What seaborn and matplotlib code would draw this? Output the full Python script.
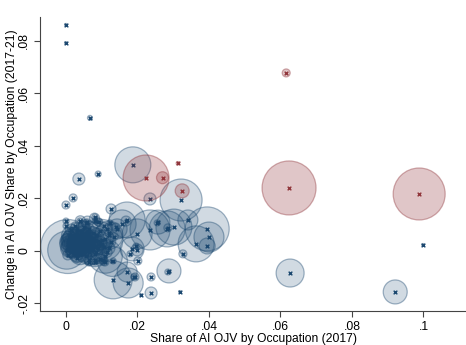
import matplotlib
matplotlib.use("Agg")
import matplotlib.pyplot as plt
import matplotlib.ticker as mticker
from matplotlib.colors import to_rgba
import numpy as np
import pandas as pd
import seaborn as sns

# share of AI OJV in 2017 (x), change 2017-21 (y), occupation weight (bubble area)
# red = highlighted occupations
red_x = [0.0616, 0.0624, 0.0988, 0.0224, 0.0270, 0.0313, 0.0325]
red_y = [0.0678, 0.0240, 0.0217, 0.0278, 0.0279, 0.0334, 0.0229]
red_w = [16, 729, 676, 529, 36, 3, 49]

blue_x = [
    0.0, 0.0, 0.0067, 0.0036, 0.0090, 0.0020, 0.0, 0.0187, 0.0235, 0.0322,
    0.0126, 0.0283, 0.0257, 0.0341, 0.0395, 0.0400, 0.0395, 0.0364, 0.0302, 0.0235,
    0.0327, 0.0288, 0.0238, 0.0238, 0.0210, 0.0319, 0.0193, 0.0171, 0.0174, 0.0132,
    0.0201, 0.0199, 0.0185, 0.0199, 0.0171, 0.0157, 0.0143, 0.0627, 0.0921, 0.0999,
    0.0123, 0.0140, 0.0168, 0.0120, 0.0255, 0.0285, 0.0196, 0.0179, 0.0109, 0.0132,
    0.0190, 0.0285, 0.0039, 0.0059, 0.0081, 0.0081, 0.0092, 0.0014, 0.0064, 0.0081,
    0.0104, 0.0, 0.0,
    # dense cluster near the origin
    0.0005, 0.0002, 0.0030, 0.0070, 0.0100, 0.0120, 0.0060, 0.0080, 0.0110, 0.0130,
    0.0040, 0.0020, 0.0040, 0.0060, 0.0080, 0.0090, 0.0015, 0.0030, 0.0050, 0.0065,
    0.0075, 0.0010, 0.0025, 0.0040, 0.0055, 0.0070, 0.0085, 0.0095, 0.0005, 0.0015,
    0.0025, 0.0035, 0.0045, 0.0055, 0.0065, 0.0075, 0.0085, 0.0095, 0.0105, 0.0010,
    0.0020, 0.0030, 0.0040, 0.0050, 0.0060, 0.0070, 0.0085, 0.0005, 0.0015, 0.0035,
    0.0055, 0.0065, 0.0080, 0.0095, 0.0105, 0.0115, 0.0120, 0.0125, 0.0135, 0.0105,
    0.0115, 0.0045, 0.0025, 0.0055, 0.0030, 0.0005,
    0.0010, 0.0020, 0.0030, 0.0045, 0.0060, 0.0075, 0.0090, 0.0015, 0.0035, 0.0050,
    0.0065, 0.0080, 0.0100, 0.0025, 0.0045, 0.0060, 0.0005, 0.0035, 0.0070, 0.0110,
]
blue_y = [
    0.0861, 0.0792, 0.0507, 0.0274, 0.0293, 0.0202, 0.0175, 0.0328, 0.0198, 0.0194,
    0.0160, 0.0084, 0.0110, 0.0118, 0.0084, 0.0053, 0.0019, 0.0027, 0.0091, 0.0080,
    -0.0011, -0.0076, -0.0099, -0.0160, -0.0168, -0.0156, -0.0099, -0.0080, -0.0122, -0.0110,
    -0.0038, 0.0065, 0.0008, 0.0004, 0.0118, 0.0103, 0.0084, -0.0084, -0.0156, 0.0023,
    0.0107, 0.0091, 0.0114, 0.0069, 0.0107, 0.0088, 0.0019, -0.0011, -0.0042, -0.0038,
    -0.0099, -0.0080, 0.0114, 0.0107, 0.0130, 0.0114, 0.0110, 0.0080, -0.0042, -0.0042,
    -0.0034, 0.0114, 0.0095,
    0.0017, 0.0003, 0.0035, 0.0020, 0.0040, 0.0060, 0.0070, -0.0010, -0.0020, -0.0040,
    -0.0010, 0.0050, 0.0115, 0.0110, 0.0125, 0.0110, 0.0080, 0.0080, 0.0090, 0.0085,
    0.0070, 0.0060, 0.0065, 0.0060, 0.0055, 0.0050, 0.0060, 0.0075, 0.0040, 0.0030,
    0.0020, 0.0040, 0.0025, 0.0035, 0.0030, 0.0035, 0.0020, 0.0030, 0.0015, 0.0010,
    0.0000, 0.0010, 0.0005, 0.0010, 0.0000, 0.0005, -0.0005, 0.0025, -0.0005, -0.0015,
    -0.0020, -0.0035, -0.0035, -0.0030, -0.0040, -0.0005, 0.0010, 0.0035, 0.0055, 0.0095,
    0.0085, 0.0075, 0.0095, 0.0105, -0.0025, -0.0015,
    0.0045, 0.0030, 0.0055, 0.0040, 0.0020, 0.0045, 0.0010, 0.0015, 0.0025, 0.0050,
    0.0040, 0.0015, 0.0025, 0.0035, 0.0015, 0.0060, 0.0035, 0.0000, 0.0030, 0.0045,
]
blue_w = [
    2, 2, 6, 36, 9, 16, 16, 324, 36, 441,
    25, 324, 144, 100, 484, 225, 64, 324, 324, 400,
    16, 144, 16, 36, 2, 2, 16, 100, 225, 361,
    16, 225, 144, 36, 324, 196, 100, 196, 144, 2,
    9, 16, 25, 16, 9, 16, 9, 9, 16, 9,
    9, 9, 9, 16, 9, 9, 16, 9, 16, 9,
    16, 9, 9,
    729, 361, 225, 361, 441, 196, 144, 169, 289, 225,
    121, 100, 25, 36, 25, 16, 36, 49, 36, 25,
    36, 64, 49, 81, 64, 36, 49, 25, 49, 81,
    64, 100, 81, 64, 49, 81, 36, 49, 36, 81,
    49, 64, 49, 64, 36, 49, 36, 64, 36, 25,
    36, 25, 16, 25, 16, 25, 36, 25, 16, 16,
    25, 25, 16, 16, 25, 25,
    64, 81, 49, 100, 64, 81, 49, 100, 121, 64,
    81, 64, 100, 49, 81, 49, 64, 121, 100, 81,
]

BLUE = "#1a476f"
RED = "#90353b"

plt.rcParams["font.family"] = ["Liberation Sans", "DejaVu Sans"]

fig = plt.figure(figsize=(4.66, 3.45), dpi=100)
ax = fig.add_axes([40 / 466, 34 / 345, 426 / 466, 294 / 345])

w_max = max(max(blue_w), max(red_w))
px_to_pt2 = (2 * 0.72) ** 2  # radius in px^2 -> marker area in pt^2

for xs, ys, ws, col, fa in [(blue_x, blue_y, blue_w, BLUE, 0.2),
                             (red_x, red_y, red_w, RED, 0.28)]:
    df = pd.DataFrame({"share": xs, "change": ys, "weight": ws})
    sns.scatterplot(data=df, x="share", y="change", size="weight",
                    sizes=(0, w_max * px_to_pt2), size_norm=(0, w_max),
                    color=col, linewidth=0.9, legend=False, ax=ax)
    coll = ax.collections[-1]
    coll.set_facecolor(to_rgba(col, fa))
    coll.set_edgecolor(to_rgba(col, 0.4))
    sns.scatterplot(data=df, x="share", y="change", marker="x", s=7,
                    color=col, linewidth=1.0, legend=False, ax=ax)

ax.set_xlim(-0.00727, 0.1119)
ax.set_ylim(-0.02286, 0.0891)
ax.set_xticks([0, 0.02, 0.04, 0.06, 0.08, 0.1])
ax.set_yticks([-0.02, 0, 0.02, 0.04, 0.06, 0.08])


def stata_fmt(v, pos):
    s = f"{v:g}"
    if s == "0" or s == "-0":
        return "0"
    return s.replace("0.", ".")


ax.xaxis.set_major_formatter(mticker.FuncFormatter(stata_fmt))
ax.yaxis.set_major_formatter(mticker.FuncFormatter(stata_fmt))
ax.tick_params(axis="both", labelsize=8.7, length=4, width=0.8, color="#444444", pad=3)
plt.setp(ax.get_yticklabels(), rotation=90, va="center")

for side in ["top", "right"]:
    ax.spines[side].set_visible(False)
for side in ["left", "bottom"]:
    ax.spines[side].set_color("#444444")
    ax.spines[side].set_linewidth(0.8)

ax.set_xlabel("Share of AI OJV by Occupation (2017)", fontsize=8.7, labelpad=0)
ax.set_ylabel("Change in AI OJV Share by Occupation (2017-21)", fontsize=8.7)
ax.yaxis.set_label_coords(-0.052, 0.5)

fig.savefig("out.png", dpi=100, facecolor="white")
